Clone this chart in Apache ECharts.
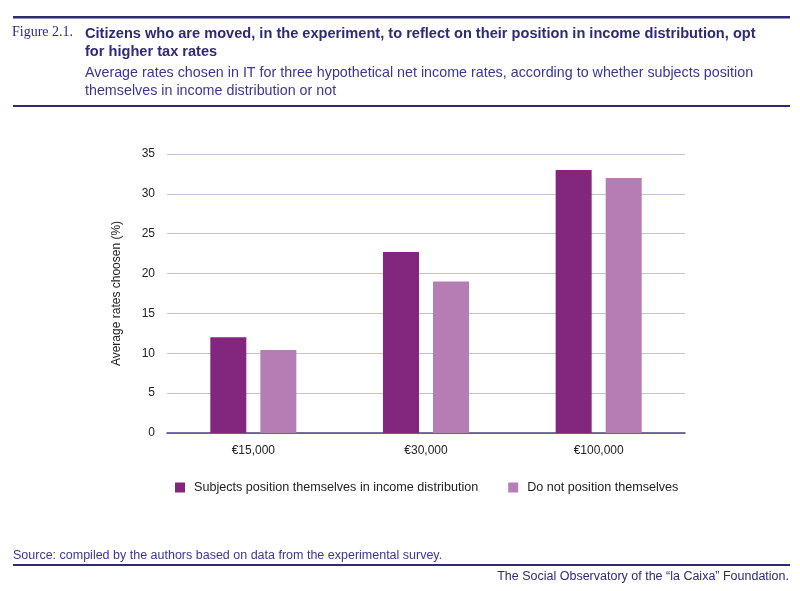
<!DOCTYPE html>
<html>
<head>
<meta charset="utf-8">
<script src="https://cdn.jsdelivr.net/npm/echarts@6/dist/echarts.min.js"></script>
<style>
  html, body { margin: 0; padding: 0; background: #fff; }
  #chart-container { width: 800px; height: 591px; }
</style>
</head>
<body>
<div id="chart-container"></div>
<script>
var categories = ["€15,000", "€30,000", "€100,000"];
var nameData = ["Subjects position themselves in income distribution", "Do not position themselves"];
var positioned = [12.0, 22.7, 33.0];
var notPositioned = [10.4, 19.0, 32.0];
var yTicks = [0, 5, 10, 15, 20, 25, 30, 35];

var navy = "#2e2a78";
var sans = "'Liberation Sans', Arial, sans-serif";

var dom = document.getElementById("chart-container");
var myChart = echarts.init(dom, null, {
  renderer: "canvas",
  useDirtyRect: false
});

var option = {
  animation: false,
  textStyle: { fontFamily: sans },
  grid: { left: 167, right: 115, top: 154, bottom: 158 },
  legend: {
    data: nameData,
    top: 476,
    left: 170,
    itemWidth: 10,
    itemHeight: 10,
    itemGap: 30,
    icon: "rect",
    textStyle: { fontSize: 12.6, color: "#222", padding: [0, 0, 0, 4] }
  },
  xAxis: {
    type: "category",
    data: categories,
    axisLine: { lineStyle: { color: "#4b3f8f", width: 1.5 } },
    axisTick: { show: false },
    axisLabel: { fontSize: 12, color: "#222", margin: 12 }
  },
  yAxis: {
    type: "value",
    min: yTicks[0],
    max: yTicks[yTicks.length - 1],
    interval: 5,
    name: "Average rates choosen (%)",
    nameLocation: "middle",
    nameGap: 44,
    nameTextStyle: { fontSize: 12, color: "#222" },
    axisLine: { show: false },
    axisTick: { show: false },
    axisLabel: { fontSize: 12, color: "#222", margin: 12 },
    splitLine: { lineStyle: { color: "#c8bedc", width: 1 } }
  },
  series: [
    {
      name: nameData[0],
      type: "bar",
      data: positioned,
      barWidth: 36,
      barGap: "39%",
      itemStyle: { color: "#82267e" }
    },
    {
      name: nameData[1],
      type: "bar",
      data: notPositioned,
      barWidth: 36,
      itemStyle: { color: "#b57db4" }
    }
  ],
  graphic: [
    { type: "rect", shape: { x: 13, y: 16, width: 777, height: 2.5 }, style: { fill: navy } },
    { type: "text", left: 12, top: 25, style: { text: "Figure 2.1.", fill: navy, font: "14px 'Liberation Serif', 'DejaVu Serif', serif" } },
    { type: "text", left: 85, top: 25, style: { text: "Citizens who are moved, in the experiment, to reflect on their position in income distribution, opt\nfor higher tax rates", fill: navy, lineHeight: 18, font: "bold 14.6px " + sans } },
    { type: "text", left: 85, top: 64, style: { text: "Average rates chosen in IT for three hypothetical net income rates, according to whether subjects position\nthemselves in income distribution or not", fill: "#3b3790", lineHeight: 18, font: "14.3px " + sans } },
    { type: "rect", shape: { x: 13, y: 105, width: 777, height: 2 }, style: { fill: navy } },
    { type: "text", left: 13, top: 549, style: { text: "Source: compiled by the authors based on data from the experimental survey.", fill: "#3b3790", font: "12.5px " + sans } },
    { type: "rect", shape: { x: 13, y: 564, width: 777, height: 2 }, style: { fill: navy } },
    { type: "text", right: 11, top: 570, style: { text: "The Social Observatory of the “la Caixa” Foundation.", fill: navy, font: "12.5px " + sans } }
  ]
};

myChart.setOption(option);
window.addEventListener("resize", myChart.resize);
</script>
</body>
</html>
